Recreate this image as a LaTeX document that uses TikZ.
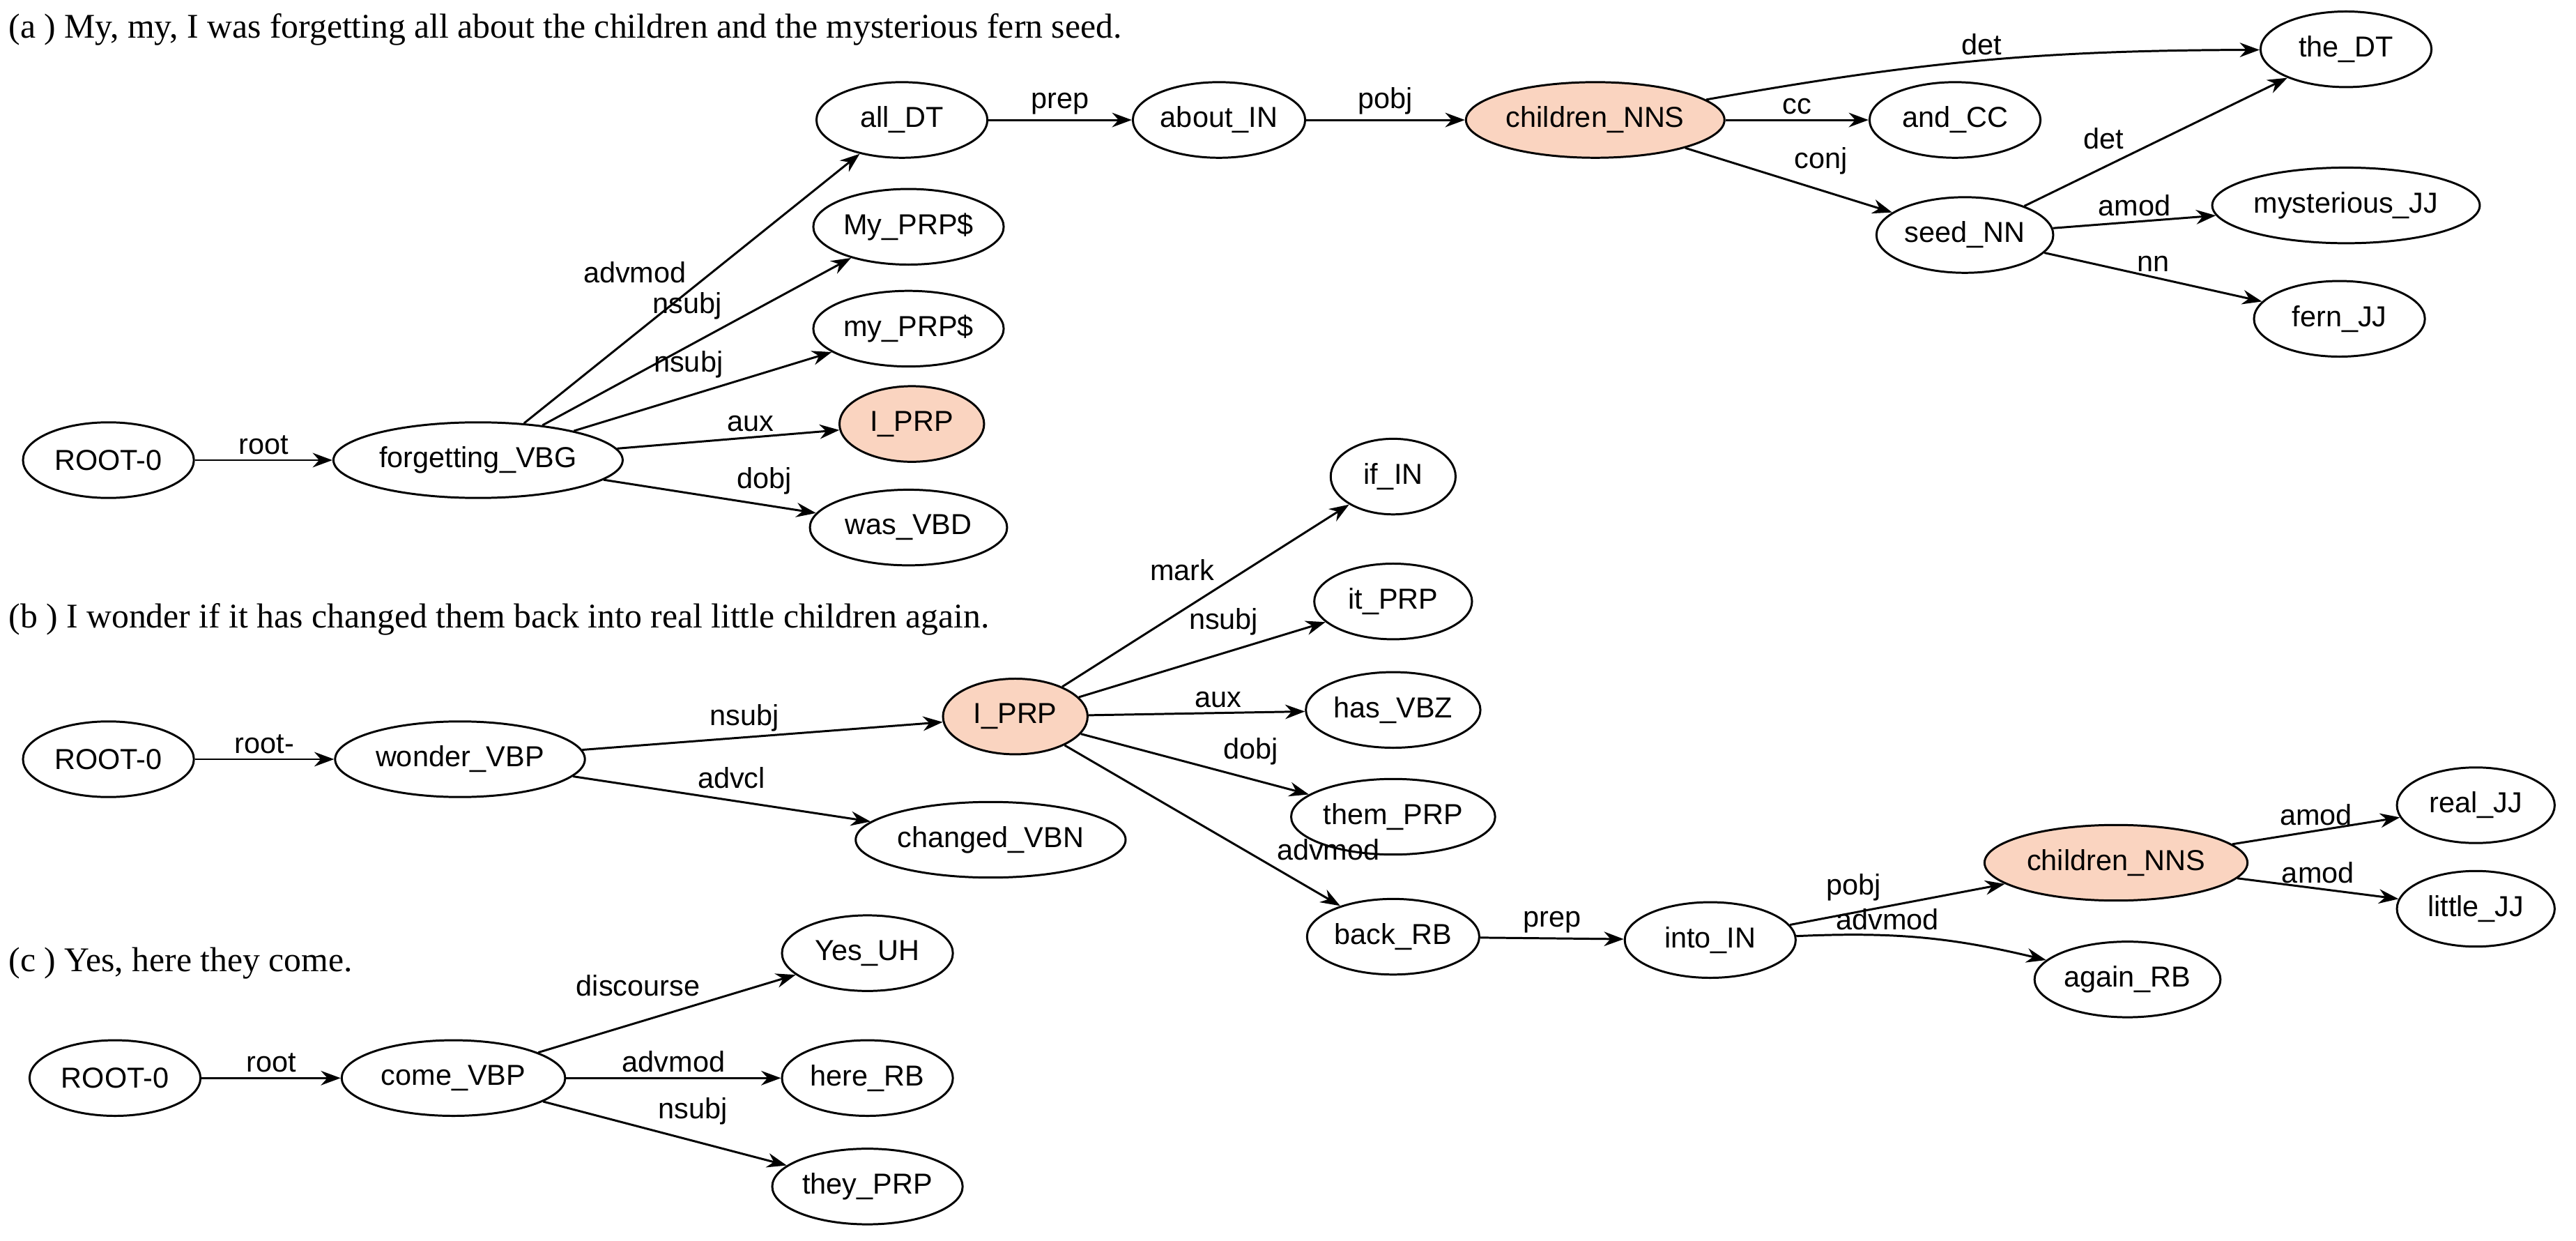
\documentclass[tikz,border=0pt]{standalone}
\usepackage{fontspec}
\setmainfont{Liberation Serif}
\newfontfamily\lbl{Liberation Sans}
\usetikzlibrary{positioning,arrows.meta,shapes.geometric}
\definecolor{peach}{HTML}{FAD4C0}
\begin{document}
\begin{tikzpicture}[
    x=0.025cm, y=-0.025cm,
    tok/.style={draw, ellipse, line width=0.9pt, inner sep=1pt, minimum height=1.15cm, minimum width=2.6cm, font=\lbl\fontsize{12.5}{14}\selectfont},
    hit/.style={tok, fill=peach},
    arr/.style={-{Stealth[length=3mm, width=2.2mm]}, line width=0.9pt},
    rel/.style={font=\lbl\fontsize{12.5}{14}\selectfont, inner sep=2pt},
    caption/.style={anchor=west, font=\fontsize{15}{17}\selectfont, inner sep=0pt},
]
    \useasboundingbox (0,0) rectangle (1568,755);

    % === (a) ===
    \node[caption] (capa) at (5,18) {(a ) My, my, I was forgetting all about the children and the mysterious fern seed.};
    \node[tok] (roota) at (66,280) {ROOT-0};
    \node[tok, minimum width=4.4cm] (forgetting) at (291,280) {forgetting\_VBG};
    \node[tok] (all) at (549,73) {all\_DT};
    \node[tok] (My) at (553,138) {My\_PRP\$};
    \node[tok] (my) at (553,200) {my\_PRP\$};
    \node[hit, minimum width=2.2cm] (Ia) at (555,258) {I\_PRP};
    \node[tok, minimum width=3cm] (was) at (553,321) {was\_VBD};
    \node[tok] (about) at (742,73) {about\_IN};
    \node[hit, minimum width=3.7cm] (childrena) at (971,73) {children\_NNS};
    \node[tok] (and) at (1190,73) {and\_CC};
    \node[tok] (the) at (1428,30) {the\_DT};
    \node[tok] (seed) at (1196,143) {seed\_NN};
    \node[tok, minimum width=4cm] (mysterious) at (1428,125) {mysterious\_JJ};
    \node[tok] (fern) at (1424,194) {fern\_JJ};

    \draw[arr] (roota) -- node[rel, above] {root} (forgetting);
    \draw[arr] (forgetting) -- node[rel, above left] {advmod} (all);
    \draw[arr] (forgetting) -- node[rel, above left, pos=.6] {nsubj} (My);
    \draw[arr] (forgetting) -- node[rel, above left, pos=.6] {nsubj} (my);
    \draw[arr] (forgetting) -- node[rel, above, pos=.6] {aux} (Ia);
    \draw[arr] (forgetting) -- node[rel, above right, pos=.6] {dobj} (was);
    \draw[arr] (all) -- node[rel, above] {prep} (about);
    \draw[arr] (about) -- node[rel, above] {pobj} (childrena);
    \draw[arr] (childrena) -- node[rel, above] {cc} (and);
    \draw[arr] (childrena) to[bend left=5] node[rel, above] {det} (the);
    \draw[arr] (childrena) -- node[rel, above right] {conj} (seed);
    \draw[arr] (seed) -- node[rel, above left, pos=.4] {det} (the);
    \draw[arr] (seed) -- node[rel, above] {amod} (mysterious);
    \draw[arr] (seed) -- node[rel, above] {nn} (fern);

    % === (b) ===
    \node[caption] (capb) at (5,377) {(b ) I wonder if it has changed them back into real little children again.};
    \node[tok] (rootb) at (66,462) {ROOT-0};
    \node[tok, minimum width=3.8cm] (wonder) at (280,462) {wonder\_VBP};
    \node[hit, minimum width=2.2cm] (Ib) at (618,436) {I\_PRP};
    \node[tok, minimum width=4.1cm] (changed) at (603,511) {changed\_VBN};
    \node[tok, minimum width=1.9cm] (if) at (848,290) {if\_IN};
    \node[tok, minimum width=2.4cm] (it) at (848,366) {it\_PRP};
    \node[tok] (has) at (848,432) {has\_VBZ};
    \node[tok, minimum width=3.1cm] (them) at (848,497) {them\_PRP};
    \node[tok] (back) at (848,570) {back\_RB};
    \node[tok] (into) at (1041,572) {into\_IN};
    \node[hit, minimum width=4cm] (childrenb) at (1288,525) {children\_NNS};
    \node[tok] (again) at (1295,596) {again\_RB};
    \node[tok, minimum width=2.4cm] (real) at (1507,490) {real\_JJ};
    \node[tok, minimum width=2.4cm] (little) at (1507,553) {little\_JJ};

    \draw[arr] (rootb) -- node[rel, above] {root-} (wonder);
    \draw[arr] (wonder) -- node[rel, above, pos=.45] {nsubj} (Ib);
    \draw[arr] (wonder) -- node[rel, above right, pos=.4] {advcl} (changed);
    \draw[arr] (Ib) -- node[rel, above left, pos=.55] {mark} (if);
    \draw[arr] (Ib) -- node[rel, above left, pos=.75] {nsubj} (it);
    \draw[arr] (Ib) -- node[rel, above, pos=.6] {aux} (has);
    \draw[arr] (Ib) -- node[rel, above right, pos=.6] {dobj} (them);
    \draw[arr] (Ib) -- node[rel, above right, pos=.75] {advmod} (back);
    \draw[arr] (back) -- node[rel, above] {prep} (into);
    \draw[arr] (into) -- node[rel, above left, pos=.45] {pobj} (childrenb);
    \draw[arr] (into) to[bend left=8] node[rel, above, pos=.35] {advmod} (again);
    \draw[arr] (childrenb) -- node[rel, above] {amod} (real);
    \draw[arr] (childrenb) -- node[rel, above] {amod} (little);

    % === (c) ===
    \node[caption] (capc) at (5,586) {(c ) Yes, here they come.};
    \node[tok] (rootc) at (70,656) {ROOT-0};
    \node[tok, minimum width=3.4cm] (come) at (276,656) {come\_VBP};
    \node[tok] (yes) at (528,580) {Yes\_UH};
    \node[tok] (here) at (528,656) {here\_RB};
    \node[tok] (they) at (528,722) {they\_PRP};

    \draw[arr] (rootc) -- node[rel, above] {root} (come);
    \draw[arr] (come) -- node[rel, above left, pos=.65] {discourse} (yes);
    \draw[arr] (come) -- node[rel, above] {advmod} (here);
    \draw[arr] (come) -- node[rel, above right, pos=.45] {nsubj} (they);
\end{tikzpicture}
\end{document}
